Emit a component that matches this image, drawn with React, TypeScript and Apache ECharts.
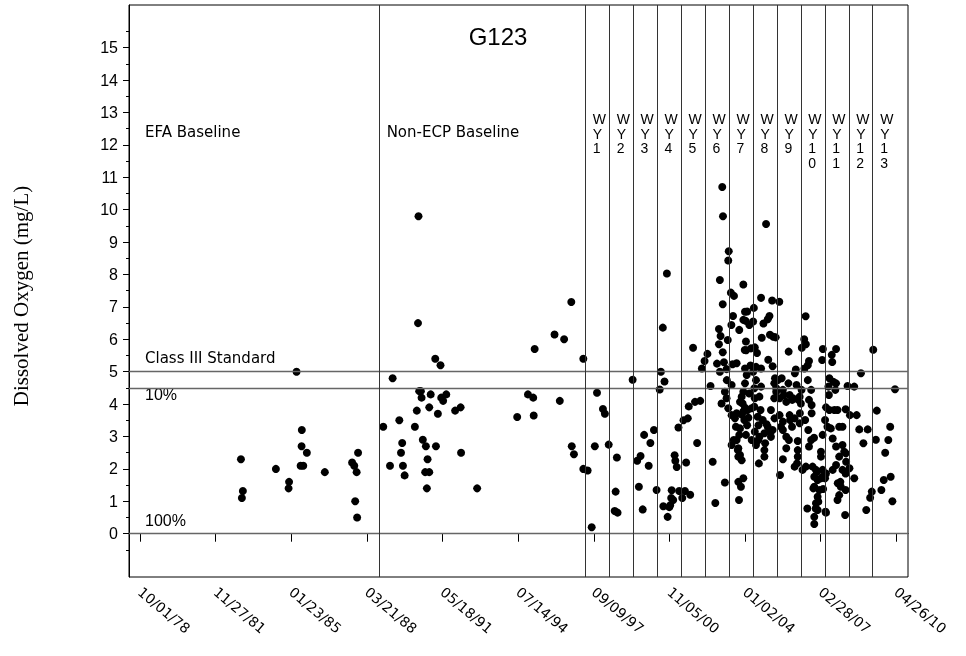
import React, { useEffect, useRef } from 'react';
import * as echarts from 'echarts';

// ---------- data (decimal year, dissolved oxygen mg/L) ----------
const efaPoints: number[][] = [
  [1982.96, 2.3], [1983.04, 1.32], [1983.0, 1.1], [1984.42, 2.0], [1984.97, 1.6], [1984.95, 1.4],
  [1985.28, 5.0], [1985.5, 3.2], [1985.49, 2.7], [1985.71, 2.5], [1985.45, 2.1], [1985.56, 2.1],
  [1986.46, 1.9], [1987.6, 2.2], [1987.69, 2.1], [1987.79, 1.9], [1987.73, 1.0], [1987.81, 0.5], [1987.85, 2.5],
];

const nonEcpPoints: number[][] = [
  [1988.9, 3.3], [1989.18, 2.1], [1989.29, 4.8], [1989.57, 3.5], [1989.64, 2.5], [1989.69, 2.8], [1989.72, 2.1],
  [1989.79, 1.8], [1990.22, 3.3], [1990.3, 3.8], [1990.35, 6.5], [1990.37, 9.8], [1990.4, 4.4], [1990.47, 4.4],
  [1990.5, 4.2], [1990.55, 2.9], [1990.65, 1.9], [1990.68, 2.7], [1990.72, 1.4], [1990.75, 2.3], [1990.82, 1.9],
  [1990.82, 3.9], [1990.88, 4.3], [1991.07, 5.4], [1991.1, 2.7], [1991.18, 3.7], [1991.29, 5.2], [1991.32, 4.2],
  [1991.4, 4.1], [1991.53, 4.3], [1991.9, 3.8], [1992.13, 3.9], [1992.15, 2.5], [1992.82, 1.4], [1994.49, 3.6],
  [1994.94, 4.3], [1995.16, 4.2], [1995.18, 3.65], [1995.22, 5.7], [1996.05, 6.15], [1996.27, 4.1], [1996.45, 6.0],
  [1996.75, 7.15], [1996.77, 2.7], [1996.86, 2.45], [1997.25, 5.4], [1997.25, 2.0],
];

const wy1to5Points: number[][] = [
  [1997.43, 1.95], [1997.6, 0.2], [1997.73, 2.7], [1997.82, 4.35], [1998.07, 3.85], [1998.15, 3.7], [1998.31, 2.75],
  [1998.56, 0.7], [1998.6, 1.3], [1998.65, 2.35], [1998.68, 0.65], [1999.31, 4.75], [1999.5, 2.25], [1999.57, 1.45],
  [1999.64, 2.4], [1999.73, 0.75], [1999.79, 3.05], [1999.98, 2.1], [2000.05, 2.8], [2000.2, 3.2], [2000.31, 1.35],
  [2000.44, 4.45], [2000.49, 5.0], [2000.57, 6.36], [2000.59, 0.85], [2000.64, 4.7], [2000.74, 8.03], [2000.77, 0.52],
  [2000.84, 0.82], [2000.88, 0.88], [2000.92, 1.1], [2000.94, 1.34], [2001.0, 1.04], [2001.06, 2.42], [2001.09, 2.25],
  [2001.15, 2.06], [2001.22, 3.28], [2001.25, 1.32], [2001.38, 1.1], [2001.43, 3.5], [2001.49, 1.32], [2001.54, 2.2],
  [2001.61, 3.56], [2001.65, 3.93], [2001.71, 1.2], [2001.83, 5.74], [2001.91, 4.07], [2002.0, 2.8], [2002.13, 4.1],
  [2002.2, 5.1], [2002.31, 5.33],
];

const wy6to8Points: number[][] = [
  [2002.43, 5.55], [2002.56, 4.56], [2002.65, 2.22], [2002.76, 0.95], [2002.83, 5.25], [2002.91, 6.32], [2002.91, 5.85],
  [2002.95, 7.83], [2002.95, 5.0], [2002.98, 6.1], [2003.02, 4.02], [2003.05, 10.7], [2003.07, 7.08], [2003.07, 5.6],
  [2003.08, 9.8], [2003.12, 5.29], [2003.16, 4.38], [2003.16, 1.58], [2003.23, 5.08], [2003.23, 4.18], [2003.24, 4.74],
  [2003.28, 5.98], [2003.3, 8.43], [2003.3, 3.87], [2003.32, 8.72],
  [2003.41, 7.44], [2003.43, 6.44], [2003.44, 4.59], [2003.44, 3.66], [2003.44, 2.74], [2003.48, 5.23], [2003.5, 6.72],
  [2003.53, 2.89], [2003.54, 7.34], [2003.58, 3.56], [2003.62, 3.3], [2003.65, 5.26], [2003.65, 3.72], [2003.65, 2.89],
  [2003.7, 2.58], [2003.72, 2.64], [2003.72, 1.6], [2003.75, 1.04], [2003.76, 6.29], [2003.76, 3.05], [2003.79, 4.07],
  [2003.79, 3.25], [2003.79, 2.43], [2003.72, 2.38], [2003.83, 1.45], [2003.86, 4.23], [2003.86, 2.27], [2003.86, 3.68],
  [2003.9, 4.02], [2003.93, 7.69], [2003.93, 6.6], [2003.93, 4.38], [2003.93, 3.77], [2003.93, 1.71], [2003.97, 3.51],
  [2003.99, 5.67], [2004.0, 6.85], [2004.0, 5.1], [2004.0, 4.64], [2004.0, 3.89], [2004.03, 6.57], [2004.04, 5.93],
  [2004.04, 3.05], [2004.05, 5.66], [2004.07, 4.9], [2004.09, 6.86], [2004.09, 3.35], [2004.11, 3.82], [2004.14, 3.58],
  [2004.18, 6.44], [2004.18, 4.33], [2004.23, 5.19], [2004.25, 5.72], [2004.28, 3.87], [2004.28, 2.89], [2004.34, 6.55],
  [2004.34, 5.0],
  [2004.37, 6.97], [2004.39, 4.49], [2004.39, 3.92], [2004.41, 5.75], [2004.41, 4.18], [2004.41, 3.15], [2004.46, 5.15],
  [2004.46, 4.74], [2004.46, 2.74], [2004.5, 5.58], [2004.53, 3.61], [2004.56, 3.35], [2004.56, 2.89], [2004.58, 2.17],
  [2004.6, 4.23], [2004.6, 2.99], [2004.65, 3.82], [2004.67, 7.28], [2004.67, 5.1], [2004.67, 4.54], [2004.7, 6.05],
  [2004.74, 3.51], [2004.77, 6.49], [2004.81, 3.1], [2004.81, 2.58], [2004.81, 2.38], [2004.84, 2.79], [2004.88, 9.56],
  [2004.9, 3.38], [2004.95, 6.62], [2004.95, 3.3], [2004.97, 5.37], [2005.02, 6.72], [2005.04, 6.14], [2005.05, 3.15],
  [2005.08, 3.82], [2005.08, 2.99], [2005.13, 7.2], [2005.15, 5.17], [2005.15, 3.2], [2005.18, 6.08], [2005.22, 4.64],
  [2005.22, 4.18], [2005.23, 3.56], [2005.25, 4.8], [2005.28, 6.06], [2005.3, 4.49], [2005.3, 4.38],
];

const wy9to10Points: number[][] = [
  [2005.37, 4.74], [2005.43, 7.16], [2005.44, 4.18], [2005.44, 3.66], [2005.46, 1.81], [2005.5, 3.3], [2005.53, 4.8],
  [2005.58, 4.44], [2005.58, 3.46], [2005.58, 3.2], [2005.58, 2.3], [2005.62, 4.28], [2005.72, 4.07], [2005.72, 2.99],
  [2005.72, 2.64], [2005.81, 4.64], [2005.82, 5.62], [2005.83, 2.89], [2005.86, 4.28], [2005.86, 3.66], [2005.88, 3.51],
  [2005.96, 3.3], [2005.97, 4.13], [2006.0, 4.18], [2006.07, 3.56], [2006.07, 2.07], [2006.08, 4.95], [2006.12, 5.07],
  [2006.15, 4.59], [2006.17, 2.17], [2006.2, 2.86], [2006.2, 2.58], [2006.2, 2.38], [2006.23, 4.13], [2006.28, 4.23],
  [2006.28, 3.41], [2006.29, 3.72],
  [2006.33, 4.02], [2006.36, 4.44], [2006.37, 5.74], [2006.4, 1.97], [2006.47, 6.0], [2006.48, 5.1], [2006.51, 3.51],
  [2006.53, 6.71], [2006.54, 5.85], [2006.54, 2.07], [2006.6, 0.78], [2006.62, 5.2], [2006.62, 4.74], [2006.64, 3.2],
  [2006.67, 5.33], [2006.67, 4.13], [2006.67, 2.69], [2006.76, 4.44], [2006.76, 2.89], [2006.78, 3.97], [2006.78, 3.72],
  [2006.82, 2.07], [2006.85, 1.4], [2006.88, 2.96], [2006.89, 1.76], [2006.89, 1.45], [2006.89, 0.52], [2006.89, 0.3],
  [2006.95, 0.78], [2006.96, 1.97], [2006.96, 0.94], [2007.0, 1.91], [2007.03, 1.66], [2007.03, 1.14], [2007.03, 0.73],
  [2007.06, 0.99], [2007.1, 1.35], [2007.17, 2.53], [2007.17, 2.38], [2007.17, 1.71], [2007.22, 5.36], [2007.24, 3.05],
  [2007.24, 1.97], [2007.24, 1.76], [2007.25, 5.7], [2007.26, 1.38],
];

const wy11to13Points: number[][] = [
  [2007.34, 3.51], [2007.34, 1.71], [2007.36, 0.68], [2007.38, 3.9], [2007.38, 1.86], [2007.38, 0.65], [2007.44, 3.3],
  [2007.48, 4.54], [2007.5, 4.28], [2007.52, 4.8], [2007.52, 3.82], [2007.58, 3.25], [2007.62, 5.52], [2007.64, 5.3],
  [2007.66, 2.94], [2007.66, 1.97], [2007.68, 4.69], [2007.73, 3.82], [2007.77, 4.44], [2007.8, 5.7], [2007.8, 4.64],
  [2007.8, 2.69], [2007.8, 2.12], [2007.86, 3.82], [2007.86, 1.04], [2007.87, 1.56], [2007.93, 3.3], [2007.93, 2.38],
  [2007.93, 1.19], [2007.98, 1.6], [2008.0, 1.45], [2008.07, 3.3], [2008.07, 2.74], [2008.07, 1.97], [2008.14, 2.53],
  [2008.18, 0.58], [2008.2, 3.84], [2008.2, 1.86], [2008.2, 1.35], [2008.21, 2.48], [2008.22, 2.22], [2008.28, 4.56],
  [2008.36, 2.02], [2008.38, 3.66], [2008.56, 4.54], [2008.56, 1.71], [2008.66, 3.66], [2008.77, 3.22], [2008.84, 4.95],
  [2008.94, 2.79], [2009.06, 0.73], [2009.12, 3.22], [2009.22, 1.11], [2009.29, 1.3],
  [2009.35, 5.68], [2009.46, 2.9], [2009.5, 3.8], [2009.69, 1.35], [2009.79, 1.66], [2009.85, 2.5], [2009.98, 2.89],
  [2010.06, 3.3], [2010.08, 1.76], [2010.15, 1.0], [2010.26, 4.46],
];

const xTickDates = [
  '1978-10-01', '1981-11-27', '1985-01-23', '1988-03-21', '1991-05-18', '1994-07-14',
  '1997-09-09', '2000-11-05', '2004-01-02', '2007-02-28', '2010-04-26',
];
const yTickValues = [0, 1, 2, 3, 4, 5, 6, 7, 8, 9, 10, 11, 12, 13, 14, 15];
const yMinorTickValues = [-0.5, 0.5, 1.5, 2.5, 3.5, 4.5, 5.5, 6.5, 7.5, 8.5, 9.5, 10.5, 11.5, 12.5, 13.5, 14.5, 15.5];

const periodLabels = ['EFA Baseline', 'Non-ECP Baseline'];
const periodBoundaries = ['1988-10-01'];
const wyStarts = [
  '1997-05-01', '1998-05-01', '1999-05-01', '2000-05-01', '2001-05-01', '2002-05-01', '2003-05-01',
  '2004-05-01', '2005-05-01', '2006-05-01', '2007-05-01', '2008-05-01', '2009-05-01',
];
const wyLabels = ['WY1', 'WY2', 'WY3', 'WY4', 'WY5', 'WY6', 'WY7', 'WY8', 'WY9', 'WY10', 'WY11', 'WY12', 'WY13'];
const refLineValues = [5, 4.5, 0];
const refLineLabels = ['Class III Standard', '10%', '100%'];

const DAY = 86400000;
const toTs = (y: number) => {
  const yr = Math.floor(y);
  return Date.UTC(yr, 0, 1) + (y - yr) * 365.25 * DAY;
};
const pad = (n: number) => (n < 10 ? '0' + n : '' + n);
const fmtDate = (v: number) => {
  const d = new Date(v);
  return pad(d.getUTCMonth() + 1) + '/' + pad(d.getUTCDate()) + '/' + pad(d.getUTCFullYear() % 100);
};

const SANS = '"Liberation Sans", Arial, sans-serif';

export default function App() {
  const ref = useRef<HTMLDivElement>(null);
  useEffect(() => {
    if (!ref.current) return;
    const chart = echarts.init(ref.current, undefined, { renderer: 'svg' });
    const xTicks = xTickDates.map((d) => Date.parse(d));
    const xMin = xTicks[0] - 168 * DAY;
    const xMax = xTicks[xTicks.length - 1] + 178 * DAY;
    const yMin = -1.336;
    const yMax = 16.318;

    const mkSeries = (name: string, pts: number[][]) => ({
      name,
      type: 'scatter',
      xAxisIndex: 0,
      yAxisIndex: 0,
      symbol: 'circle',
      symbolSize: 8,
      itemStyle: { color: '#000', opacity: 1 },
      data: pts.map((p) => [toTs(p[0]), p[1]]),
      z: 3,
    });

    const vLines = [...periodBoundaries, ...wyStarts].map((d) => ({
      xAxis: Date.parse(d),
      lineStyle: { color: '#333', width: 1, type: 'solid' },
    }));
    const hLines = refLineValues.map((v) => ({
      yAxis: v,
      lineStyle: { color: '#666', width: 1.3, type: 'solid' },
    }));

    const lineSeries = {
      name: 'lines',
      type: 'scatter',
      xAxisIndex: 0,
      yAxisIndex: 0,
      data: [],
      z: 2,
      markLine: {
        silent: true,
        symbol: ['none', 'none'],
        label: { show: false },
        data: [...hLines, ...vLines],
      },
    };

    chart.setOption({
      animation: false,
      grid: {
        left: 129, right: 58, top: 5, bottom: 79, show: true, borderColor: '#000', borderWidth: 1,
        containLabel: false, outerBoundsMode: 'none',
      },
      xAxis: {
        type: 'value',
        min: xMin,
        max: xMax,
        axisLine: { show: true, lineStyle: { color: '#000', width: 1 } },
        axisTick: { show: true, customValues: xTicks, length: 8, lineStyle: { color: '#000' } },
        axisLabel: {
          customValues: xTicks,
          formatter: (v: number) => fmtDate(v),
          rotate: -40,
          margin: 13,
          color: '#000',
          fontSize: 14,
          fontFamily: '"DejaVu Sans", sans-serif',
        },
        splitLine: { show: false },
      },
      yAxis: [
        {
          type: 'value',
          min: yMin,
          max: yMax,
          name: 'Dissolved Oxygen (mg/L)',
          nameLocation: 'middle',
          nameGap: 98,
          nameRotate: 90,
          nameTextStyle: {
            fontFamily: '"Liberation Serif", "Times New Roman", serif',
            fontSize: 21,
            color: '#000',
            padding: [0, 10, 0, 0],
          },
          axisLine: { show: true, lineStyle: { color: '#000', width: 1 } },
          axisTick: { show: true, customValues: yTickValues, length: 6, lineStyle: { color: '#000' } },
          axisLabel: { customValues: yTickValues, margin: 11, color: '#000', fontSize: 16, fontFamily: SANS },
          splitLine: { show: false },
        },
        {
          type: 'value',
          min: yMin,
          max: yMax,
          position: 'left',
          axisLine: { show: false },
          axisTick: { show: true, customValues: yMinorTickValues, length: 3, lineStyle: { color: '#000' } },
          axisLabel: { show: false },
          splitLine: { show: false },
        },
      ],
      series: [
        lineSeries,
        mkSeries('EFA', efaPoints),
        mkSeries('NonECP', nonEcpPoints),
        mkSeries('WY1-5', wy1to5Points),
        mkSeries('WY6-8', wy6to8Points),
        mkSeries('WY9-10', wy9to10Points),
        mkSeries('WY11-13', wy11to13Points),
      ],
    });

    const pix = (x: number, y: number) => chart.convertToPixel({ xAxisIndex: 0, yAxisIndex: 0 }, [x, y]) as number[];
    const graphics: any[] = [];
    graphics.push({
      type: 'text',
      x: 498,
      y: 36,
      style: { text: 'G123', fontSize: 24, fontFamily: SANS, fill: '#000', align: 'center', verticalAlign: 'middle' },
    });
    const periodStartsPx = [pix(xMin, 0)[0], pix(Date.parse(periodBoundaries[0]), 0)[0]];
    periodLabels.forEach((t, i) => {
      graphics.push({
        type: 'text',
        x: periodStartsPx[i] + (i === 0 ? 16 : 7),
        y: 132,
        style: { text: t, fontSize: 15, fontFamily: '"DejaVu Sans", sans-serif', fill: '#000', align: 'left', verticalAlign: 'middle' },
      });
    });
    wyStarts.forEach((d, i) => {
      const px = pix(Date.parse(d), 0)[0];
      graphics.push({
        type: 'text',
        x: px + 7.5,
        y: 112,
        style: {
          text: wyLabels[i].split('').join('\n'),
          fontSize: 14,
          lineHeight: 14.5,
          fontFamily: SANS,
          fill: '#000',
          align: 'left',
          verticalAlign: 'top',
        },
      });
    });
    const leftPx = pix(xMin, 0)[0];
    refLineValues.forEach((v, i) => {
      const py = pix(xMin, v)[1];
      const above = i !== 1;
      graphics.push({
        type: 'text',
        x: leftPx + 16,
        y: above ? py - 13.5 : py + 6.5,
        style: {
          text: refLineLabels[i],
          fontSize: i === 0 ? 15 : 16,
          fontFamily: i === 0 ? '"DejaVu Sans", sans-serif' : SANS,
          fill: '#000',
          align: 'left',
          verticalAlign: 'middle',
        },
      });
    });
    chart.setOption({ graphic: graphics });

    return () => chart.dispose();
  }, []);
  return <div ref={ref} style={{ position: 'fixed', left: 0, top: 0, width: 966, height: 656 }} />;
}
